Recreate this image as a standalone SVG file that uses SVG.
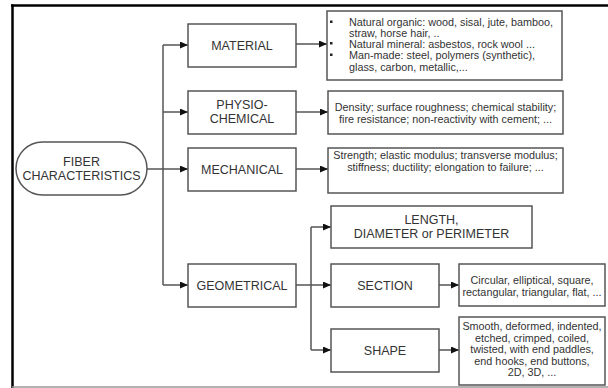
<svg xmlns="http://www.w3.org/2000/svg" width="608" height="388" viewBox="0 0 608 388">
<defs>
<marker id="arr" markerUnits="userSpaceOnUse" markerWidth="8" markerHeight="7" refX="8" refY="3.5" orient="auto">
<path d="M0,0 L8,3.5 L0,7 z" fill="#111"/>
</marker>
<style>
.box{fill:#fff;stroke:#555;stroke-width:1.5}
.lbl{font-family:"Liberation Sans",Arial,sans-serif;font-size:12.5px;fill:#333;text-anchor:middle}
.dsc{font-family:"Liberation Sans",Arial,sans-serif;font-size:10.8px;fill:#333;text-anchor:middle}
.dsl{font-family:"Liberation Sans",Arial,sans-serif;font-size:10.8px;fill:#333}
.con{fill:none;stroke:#555;stroke-width:1.5}
</style>
</defs>
<rect x="0" y="0" width="608" height="388" fill="#fff"/>
<g id="frame">
<line x1="11" y1="5.5" x2="608" y2="5.5" stroke="#000" stroke-width="2.5"/>
<line x1="12.5" y1="4.5" x2="12.5" y2="388" stroke="#000" stroke-width="2.5"/>
<line x1="12" y1="387" x2="608" y2="387" stroke="#999" stroke-width="1.5"/>
</g>
<g id="connectors">
<path class="con" d="M147,169 H163"/>
<path class="con" d="M163,45 V285"/>
<path class="con" d="M163,45 H188" marker-end="url(#arr)"/>
<path class="con" d="M163,112 H188" marker-end="url(#arr)"/>
<path class="con" d="M163,169 H188" marker-end="url(#arr)"/>
<path class="con" d="M163,285 H188" marker-end="url(#arr)"/>
<path class="con" d="M296,44 H327" marker-end="url(#arr)"/>
<path class="con" d="M296,112 H328" marker-end="url(#arr)"/>
<path class="con" d="M296,169 H328" marker-end="url(#arr)"/>
<path class="con" d="M296,285 H311 M311,227 V350"/>
<path class="con" d="M311,227 H331" marker-end="url(#arr)"/>
<path class="con" d="M311,285 H331" marker-end="url(#arr)"/>
<path class="con" d="M311,350 H331" marker-end="url(#arr)"/>
<path class="con" d="M439,285 H459" marker-end="url(#arr)"/>
<path class="con" d="M439,350 H459" marker-end="url(#arr)"/>
</g>
<g id="fiber">
<rect class="box" x="16" y="142" width="131" height="53" rx="26.5" ry="26.5"/>
<text class="lbl" x="81.5" y="165.5">FIBER</text>
<text class="lbl" x="81.5" y="179.5">CHARACTERISTICS</text>
</g>
<g id="material">
<rect class="box" x="188" y="24" width="108" height="43"/>
<text class="lbl" x="242" y="50">MATERIAL</text>
</g>
<g id="physio">
<rect class="box" x="188" y="91" width="108" height="43"/>
<text class="lbl" x="242" y="108.5">PHYSIO-</text>
<text class="lbl" x="242" y="122.5">CHEMICAL</text>
</g>
<g id="mechanical">
<rect class="box" x="188" y="148" width="108" height="43"/>
<text class="lbl" x="242" y="173.5">MECHANICAL</text>
</g>
<g id="geometrical">
<rect class="box" x="188" y="264" width="108" height="43"/>
<text class="lbl" x="242" y="289.5">GEOMETRICAL</text>
</g>
<g id="material-desc">
<rect class="box" x="327" y="11" width="235" height="69"/>
<rect x="330" y="20.5" width="2.5" height="2.5" fill="#222"/>
<rect x="330" y="42" width="2.5" height="2.5" fill="#222"/>
<rect x="330" y="53.5" width="2.5" height="2.5" fill="#222"/>
<text class="dsl" x="349" y="25.5">Natural organic: wood, sisal, jute, bamboo,</text>
<text class="dsl" x="349" y="37">straw, horse hair, ..</text>
<text class="dsl" x="349" y="47.5">Natural mineral: asbestos, rock wool ...</text>
<text class="dsl" x="349" y="59">Man-made: steel, polymers (synthetic),</text>
<text class="dsl" x="349" y="70.5">glass, carbon, metallic,...</text>
</g>
<g id="physio-desc">
<rect class="box" x="328" y="91" width="235" height="43"/>
<text class="dsc" x="445.5" y="111">Density; surface roughness; chemical stability;</text>
<text class="dsc" x="445.5" y="123">fire resistance; non-reactivity with cement;  ...</text>
</g>
<g id="mechanical-desc">
<rect class="box" x="328" y="148" width="235" height="45"/>
<text class="dsc" x="445.5" y="159">Strength; elastic modulus; transverse modulus;</text>
<text class="dsc" x="445.5" y="171">stiffness; ductility; elongation to failure; ...</text>
</g>
<g id="length">
<rect class="box" x="331" y="206" width="201" height="42"/>
<text class="lbl" x="431.5" y="223.5">LENGTH,</text>
<text class="lbl" x="431.5" y="237.5">DIAMETER or PERIMETER</text>
</g>
<g id="section">
<rect class="box" x="331" y="264" width="108" height="43"/>
<text class="lbl" x="385" y="289.5">SECTION</text>
</g>
<g id="shape">
<rect class="box" x="331" y="329" width="108" height="43"/>
<text class="lbl" x="385" y="354.5">SHAPE</text>
</g>
<g id="section-desc">
<rect class="box" x="459" y="264" width="146" height="42"/>
<text class="dsc" x="532" y="284">Circular, elliptical, square,</text>
<text class="dsc" x="532" y="295.5">rectangular, triangular, flat, ...</text>
</g>
<g id="shape-desc">
<rect class="box" x="459" y="317" width="146" height="68"/>
<text class="dsc" x="532" y="330">Smooth, deformed, indented,</text>
<text class="dsc" x="532" y="341.5">etched, crimped, coiled,</text>
<text class="dsc" x="532" y="353">twisted, with end paddles,</text>
<text class="dsc" x="532" y="364.5">end hooks, end buttons,</text>
<text class="dsc" x="532" y="376">2D, 3D, ...</text>
</g>
</svg>
